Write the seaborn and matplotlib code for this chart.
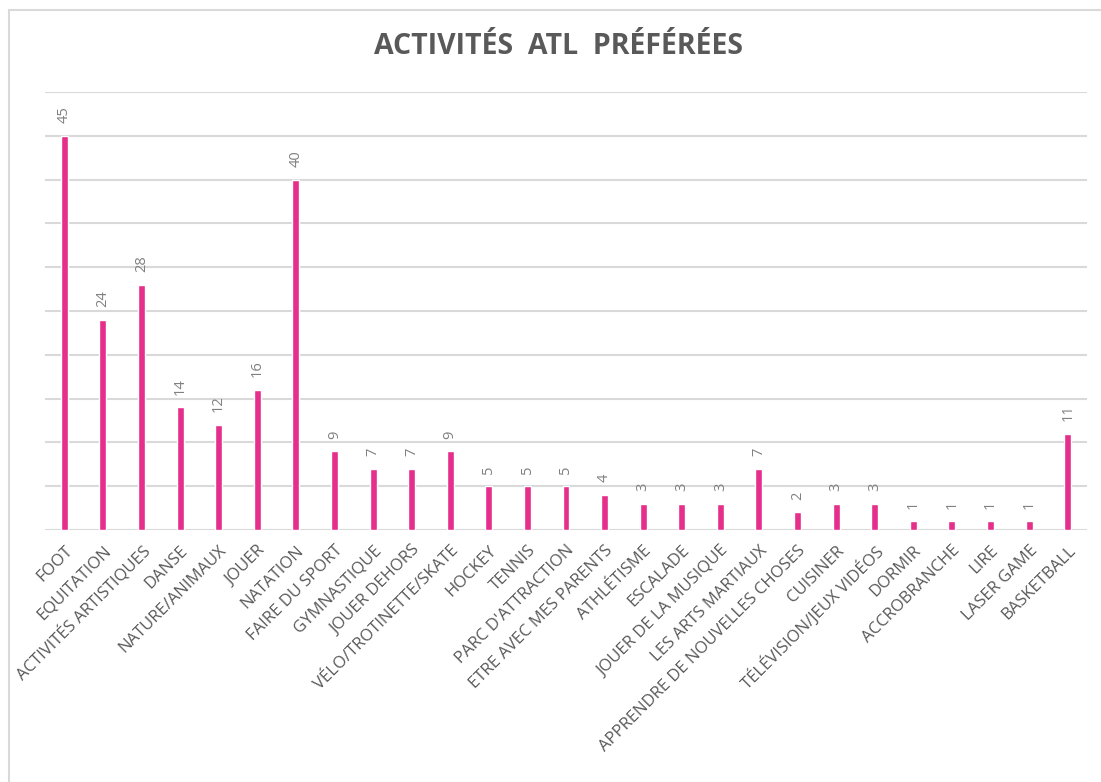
import matplotlib
matplotlib.use('Agg')
import matplotlib.pyplot as plt
import seaborn as sns
import pandas as pd
from matplotlib.patches import Rectangle
from matplotlib.transforms import Bbox, TransformedBbox

activities = ['FOOT', 'EQUITATION', 'ACTIVITÉS ARTISTIQUES', 'DANSE', 'NATURE/ANIMAUX',
              'JOUER', 'NATATION', 'FAIRE DU SPORT', 'GYMNASTIQUE', 'JOUER DEHORS',
              'VÉLO/TROTINETTE/SKATE', 'HOCKEY', 'TENNIS', "PARC D'ATTRACTION",
              'ETRE AVEC MES PARENTS', 'ATHLÉTISME', 'ESCALADE', 'JOUER DE LA MUSIQUE',
              'LES ARTS MARTIAUX', 'APPRENDRE DE NOUVELLES CHOSES', 'CUISINER',
              'TÉLÉVISION/JEUX VIDÉOS', 'DORMIR', 'ACCROBRANCHE', 'LIRE', 'LASER GAME',
              'BASKETBALL']
counts = [45, 24, 28, 14, 12, 16, 40, 9, 7, 7, 9, 5, 5, 5, 4, 3, 3, 3, 7, 2, 3, 3,
          1, 1, 1, 1, 11]

BAR_COLOR = '#E62E8B'
GRID_COLOR = '#D9D9D9'
TEXT_COLOR = '#595959'


def main():
    sns.set_theme(style='white')
    plt.rcParams['font.family'] = ['Open Sans', 'DejaVu Sans']

    df = pd.DataFrame({'activity': activities, 'count': counts})

    fig = plt.figure(figsize=(11.01, 7.82), dpi=100)
    ax = fig.add_axes([45 / 1101, 1 - 530 / 782, (1087 - 45) / 1101, (530 - 92) / 782])

    sns.barplot(data=df, x='activity', y='count', color=BAR_COLOR, width=0.18,
                saturation=1, ax=ax)

    ax.set_ylim(0, 50)
    ax.set_xlim(-0.5, len(activities) - 0.5)
    ax.set_yticks(range(0, 51, 5))
    ax.set_yticklabels([])
    ax.tick_params(axis='y', length=0)
    ax.tick_params(axis='x', length=0, pad=9)
    ax.yaxis.grid(True, color=GRID_COLOR, linewidth=1.5)
    ax.set_axisbelow(True)
    for side in ['left', 'right', 'top', 'bottom']:
        ax.spines[side].set_visible(False)
    ax.set_xlabel('')
    ax.set_ylabel('')

    # value labels
    ax.bar_label(ax.containers[0], padding=9, rotation=90, fontsize=10.5, color='#808080')

    # chart frame, labels clipped at its edge like the original
    frame_box = TransformedBbox(Bbox([[9 / 1101, -0.1], [1.1, 1 - 10 / 782]]), fig.transFigure)
    ax.set_xticks(range(len(activities)))
    ax.set_xticklabels(activities, rotation=45, ha='right', va='top', rotation_mode='anchor',
                       fontsize=12, color=TEXT_COLOR)
    for lbl in ax.get_xticklabels():
        lbl.set_clip_on(True)
        lbl.set_clip_box(frame_box)

    fig.patches.append(Rectangle((9 / 1101, -0.1), 1.2, 1.1 - 10 / 782,
                                 transform=fig.transFigure, fill=False,
                                 edgecolor=GRID_COLOR, linewidth=1.5))

    fig.text(558 / 1101, 1 - 47 / 782, 'ACTIVITÉS  ATL  PRÉFÉRÉES', ha='center', va='center',
             fontsize=20.5, fontweight='bold', color=TEXT_COLOR)

    fig.savefig('out.png', dpi=100, facecolor='white')


if __name__ == '__main__':
    main()
